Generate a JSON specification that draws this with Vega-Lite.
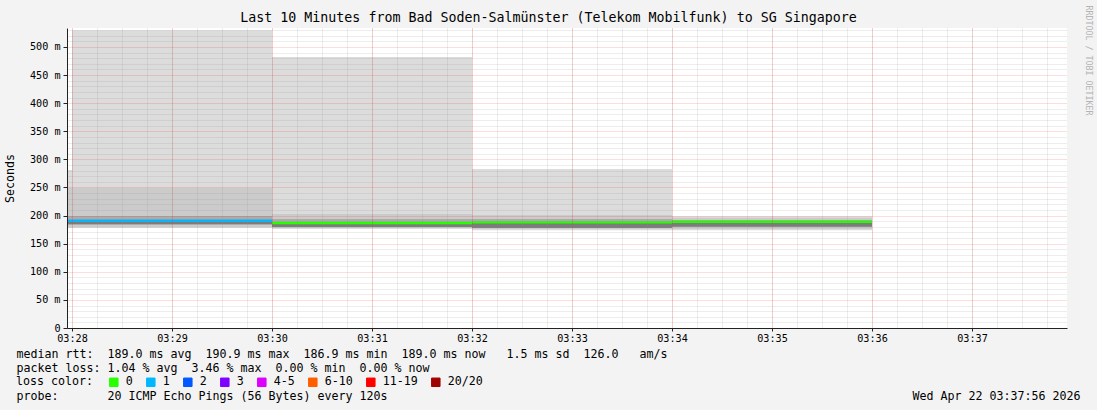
{
  "$schema": "https://vega.github.io/schema/vega-lite/v6.json",
  "width": 1000,
  "height": 300,
  "autosize": {"type": "none"},
  "padding": {"left": 67, "top": 28, "right": 30, "bottom": 82},
  "background": "#f3f3f3",
  "view": {"fill": "#ffffff", "stroke": null},
  "config": {
    "font": "DejaVu Sans Mono",
    "axis": {"labelFont": "DejaVu Sans Mono", "titleFont": "DejaVu Sans Mono"},
    "legend": {"labelFont": "DejaVu Sans Mono", "titleFont": "DejaVu Sans Mono"}
  },
  "title": {
    "text": "Last 10 Minutes from Bad Soden-Salmünster (Telekom Mobilfunk) to SG Singapore",
    "font": "DejaVu Sans Mono",
    "fontSize": 13.3,
    "fontWeight": "normal",
    "color": "#000000",
    "anchor": "middle",
    "frame": "group",
    "dx": -18.5,
    "dy": 23,
    "offset": 4
  },
  "datasets": {
    "smoke": [
      {"t0": "2026-04-22T03:26:00Z", "t1": "2026-04-22T03:28:00Z", "lo": 178, "hi": 281, "band": "outer"},
      {"t0": "2026-04-22T03:28:00Z", "t1": "2026-04-22T03:30:00Z", "lo": 178, "hi": 530, "band": "outer"},
      {"t0": "2026-04-22T03:30:00Z", "t1": "2026-04-22T03:32:00Z", "lo": 176, "hi": 482, "band": "outer"},
      {"t0": "2026-04-22T03:32:00Z", "t1": "2026-04-22T03:34:00Z", "lo": 174, "hi": 283, "band": "outer"},
      {"t0": "2026-04-22T03:34:00Z", "t1": "2026-04-22T03:36:00Z", "lo": 174, "hi": 199, "band": "outer"},
      {"t0": "2026-04-22T03:26:00Z", "t1": "2026-04-22T03:28:00Z", "lo": 179.7, "hi": 249, "band": "p2"},
      {"t0": "2026-04-22T03:28:00Z", "t1": "2026-04-22T03:30:00Z", "lo": 179.7, "hi": 249, "band": "p2"},
      {"t0": "2026-04-22T03:30:00Z", "t1": "2026-04-22T03:32:00Z", "lo": 178, "hi": 203, "band": "p2"},
      {"t0": "2026-04-22T03:32:00Z", "t1": "2026-04-22T03:34:00Z", "lo": 176, "hi": 201, "band": "p2"},
      {"t0": "2026-04-22T03:34:00Z", "t1": "2026-04-22T03:36:00Z", "lo": 176, "hi": 196, "band": "p2"},
      {"t0": "2026-04-22T03:26:00Z", "t1": "2026-04-22T03:28:00Z", "lo": 183.3, "hi": 199.3, "band": "p3"},
      {"t0": "2026-04-22T03:28:00Z", "t1": "2026-04-22T03:30:00Z", "lo": 183.3, "hi": 199.3, "band": "p3"},
      {"t0": "2026-04-22T03:30:00Z", "t1": "2026-04-22T03:32:00Z", "lo": 179.7, "hi": 194, "band": "p3"},
      {"t0": "2026-04-22T03:32:00Z", "t1": "2026-04-22T03:34:00Z", "lo": 178, "hi": 194, "band": "p3"},
      {"t0": "2026-04-22T03:34:00Z", "t1": "2026-04-22T03:36:00Z", "lo": 180, "hi": 192, "band": "p3"},
      {"t0": "2026-04-22T03:26:00Z", "t1": "2026-04-22T03:28:00Z", "lo": 185, "hi": 190.4, "band": "p4"},
      {"t0": "2026-04-22T03:28:00Z", "t1": "2026-04-22T03:30:00Z", "lo": 185, "hi": 190.4, "band": "p4"},
      {"t0": "2026-04-22T03:30:00Z", "t1": "2026-04-22T03:32:00Z", "lo": 179.7, "hi": 186.8, "band": "p4"},
      {"t0": "2026-04-22T03:32:00Z", "t1": "2026-04-22T03:34:00Z", "lo": 178, "hi": 187, "band": "p4"},
      {"t0": "2026-04-22T03:34:00Z", "t1": "2026-04-22T03:36:00Z", "lo": 180, "hi": 188.6, "band": "p4"}
    ],
    "median": [
      {"t0": "2026-04-22T03:26:00Z", "t1": "2026-04-22T03:28:00Z", "median": 190.9, "loss": "1"},
      {"t0": "2026-04-22T03:28:00Z", "t1": "2026-04-22T03:30:00Z", "median": 190.9, "loss": "1"},
      {"t0": "2026-04-22T03:30:00Z", "t1": "2026-04-22T03:32:00Z", "median": 186.9, "loss": "0"},
      {"t0": "2026-04-22T03:32:00Z", "t1": "2026-04-22T03:34:00Z", "median": 188.0, "loss": "0"},
      {"t0": "2026-04-22T03:34:00Z", "t1": "2026-04-22T03:36:00Z", "median": 189.0, "loss": "0"}
    ]
  },
  "layer": [
    {
      "data": {"name": "smoke"},
      "transform": [{"filter": "datum.band == 'outer'"}],
      "mark": {"type": "rect", "clip": true},
      "encoding": {
        "x": {
          "field": "t0", "type": "temporal",
          "scale": {"type": "utc", "domain": [1776828477000, 1776829077000]},
          "axis": {"orient": "bottom", "tickCount": 60, "grid": true, "gridColor": "#909090", "gridOpacity": 0.32, "gridDash": [1, 1], "labels": false, "ticks": false, "domain": false, "zindex": 1,
            "title": "probe:\u00a0\u00a0\u00a0\u00a0\u00a0\u00a0\u00a020 ICMP Echo Pings (56 Bytes) every 120s",
            "titleX": -51, "titleY": 62, "titleAlign": "left", "titleBaseline": "top",
            "titleFontSize": 11.63, "titleFontWeight": "normal", "titleColor": "#000000"}
        },
        "x2": {"field": "t1"},
        "y": {
          "field": "lo", "type": "quantitative",
          "scale": {"domain": [0, 533.8], "nice": false, "zero": false},
          "axis": {"orient": "left", "values": [10,20,30,40,60,70,80,90,110,120,130,140,160,170,180,190,210,220,230,240,260,270,280,290,310,320,330,340,360,370,380,390,410,420,430,440,460,470,480,490,510,520,530], "grid": true, "gridColor": "#909090", "gridOpacity": 0.32, "gridDash": [1, 1], "labels": false, "ticks": false, "domain": false, "title": null, "zindex": 1}
        },
        "y2": {"field": "hi"},
        "fill": {"field": "band", "type": "nominal", "scale": {"domain": ["outer", "p2", "p3", "p4"], "range": ["#dcdcdc", "#cbcbcb", "#ababab", "#7c7c7c"]}, "legend": null}
      }
    },
    {
      "data": {"name": "smoke"},
      "transform": [{"filter": "datum.band != 'outer'"}],
      "mark": {"type": "rect", "clip": true},
      "encoding": {
        "x": {
          "field": "t0", "type": "temporal",
          "scale": {"type": "utc", "domain": [1776828477000, 1776829077000]},
          "axis": {"orient": "bottom", "labels": false, "ticks": false, "domain": false, "grid": false, "title": "Wed Apr 22 03:37:56 2026", "titleX": 1013, "titleY": 62, "titleAlign": "right", "titleBaseline": "top", "titleFontSize": 11.63, "titleFontWeight": "normal", "titleColor": "#000000"}
        },
        "x2": {"field": "t1"},
        "y": {
          "field": "lo", "type": "quantitative",
          "scale": {"domain": [0, 533.8], "nice": false, "zero": false},
          "axis": {"orient": "right", "labels": false, "ticks": false, "domain": false, "grid": false, "title": "RRDTOOL / TOBI OETIKER", "titleAngle": 90, "titleX": 20, "titleY": -23, "titleAlign": "left", "titleBaseline": "middle", "titleFontSize": 8.3, "titleFontWeight": "normal", "titleColor": "#b4b4b4"}
        },
        "y2": {"field": "hi"},
        "fill": {"field": "band", "type": "nominal", "legend": null}
      }
    },
    {
      "data": {"name": "median"},
      "mark": {"type": "rule", "clip": true, "strokeWidth": 2.4},
      "encoding": {
        "x": {
          "field": "t0", "type": "temporal",
          "scale": {"type": "utc", "domain": [1776828477000, 1776829077000]},
          "axis": {
            "orient": "bottom", "format": "%H:%M", "tickCount": 10,
            "grid": true, "gridColor": "#ff0000", "gridOpacity": 0.27, "gridDash": [1, 1], "zindex": 1,
            "domainColor": "#222222", "tickColor": "#222222", "tickSize": 3,
            "labelFontSize": 10.17, "labelColor": "#000000", "labelPadding": 2, "labelFlush": false, "labelOverlap": false,
            "title": [
              "median rtt:\u00a0\u00a0189.0 ms avg\u00a0\u00a0190.9 ms max\u00a0\u00a0186.9 ms min\u00a0\u00a0189.0 ms now\u00a0\u00a0\u00a01.5 ms sd\u00a0\u00a0126.0\u00a0\u00a0\u00a0am/s",
              "packet loss: 1.04 % avg\u00a0\u00a03.46 % max\u00a0\u00a00.00 % min\u00a0\u00a00.00 % now"
            ],
            "titleX": -51, "titleY": 20, "titleAlign": "left", "titleBaseline": "top", "titleLineHeight": 14,
            "titleFontSize": 11.63, "titleFontWeight": "normal", "titleColor": "#000000"
          }
        },
        "x2": {"field": "t1"},
        "y": {
          "field": "median", "type": "quantitative",
          "scale": {"domain": [0, 533.8], "nice": false, "zero": false},
          "axis": {
            "orient": "left", "values": [0, 50, 100, 150, 200, 250, 300, 350, 400, 450, 500],
            "labelExpr": "datum.value == 0 ? '0' : datum.value + ' m'",
            "grid": true, "gridColor": "#ff0000", "gridOpacity": 0.27, "gridDash": [1, 1], "zindex": 1,
            "domainColor": "#222222", "tickColor": "#222222", "tickSize": 4,
            "labelFontSize": 10.17, "labelColor": "#000000", "labelPadding": 3,
            "title": "Seconds", "titleX": -56.5, "titleY": 150, "titleAngle": -90, "titleAlign": "center", "titleBaseline": "middle",
            "titleFontSize": 11.63, "titleFontWeight": "normal", "titleColor": "#000000"
          }
        },
        "color": {
          "field": "loss", "type": "nominal",
          "scale": {"domain": ["0", "1", "2", "3", "4-5", "6-10", "11-19", "20/20"], "range": ["#26ff00", "#00b8ff", "#0059ff", "#7e00ff", "#dd00ff", "#ff5e00", "#ff0000", "#a10000"]},
          "legend": {
            "orient": "none", "legendX": -51, "legendY": 348, "direction": "horizontal",
            "title": "loss color:", "titleOrient": "left", "titlePadding": 15,
            "titleFontSize": 11.63, "titleFontWeight": "normal", "titleColor": "#000000",
            "labelFontSize": 11.63, "labelColor": "#000000", "labelOffset": 6, "columnPadding": 11,
            "symbolType": "square", "symbolSize": 72, "symbolStrokeColor": "#000000", "symbolStrokeWidth": 1,
            "padding": 0,
            "encode": {"symbols": {"update": {"fill": {"scale": "color", "field": "value"}, "stroke": {"value": "#000000"}, "strokeWidth": {"value": 1}}}}
          }
        }
      }
    }
  ],
  "resolve": {
    "scale": {"x": "independent", "y": "independent"},
    "axis": {"x": "independent", "y": "independent"}
  }
}
